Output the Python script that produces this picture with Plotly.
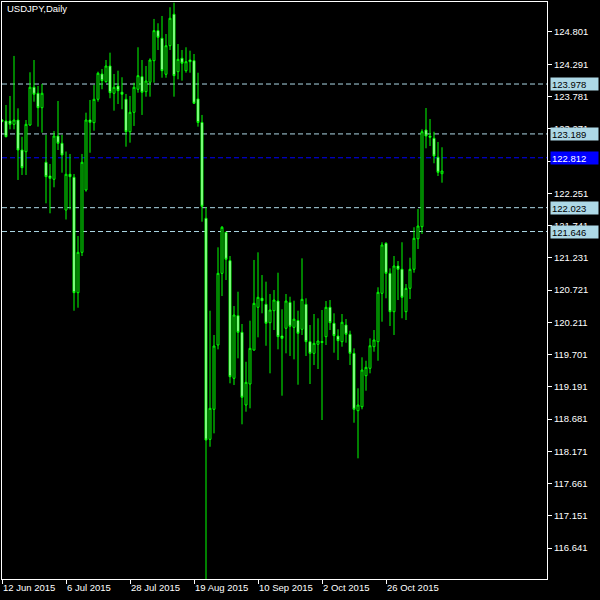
import pandas as pd
import plotly.graph_objects as go

# Trading days shown (categories)
dates = pd.bdate_range("2015-06-12", "2015-11-13").strftime("%Y-%m-%d").tolist()

opens = [123.409, 123.394, 123.394, 123.341, 123.409, 122.935, 122.908, 123.330, 123.927, 123.832,
         123.604, 122.741, 122.524, 122.472, 123.156, 123.041, 121.986, 122.551, 122.503, 120.679,
         121.317, 122.303, 123.409, 123.367, 123.737, 124.137, 124.015, 124.263, 123.832, 123.947,
         123.848, 123.737, 123.224, 123.531, 123.895, 124.094, 123.857, 124.006, 124.347, 124.822,
         124.701, 124.132, 124.584, 125.081, 124.173, 124.385, 124.189, 124.358, 124.347, 123.742,
         123.370, 121.855, 118.360, 118.835, 119.852, 120.985, 121.634, 121.185, 119.325, 120.315,
         120.052, 118.903, 119.235, 119.772, 120.448, 120.590, 120.495, 120.204, 120.394, 120.547,
         119.994, 120.116, 120.524, 120.131, 120.239, 120.100, 120.495, 119.904, 119.720, 119.863,
         119.907, 119.983, 120.448, 120.195, 119.994, 119.904, 120.168, 120.021, 119.720, 118.813,
         118.876, 119.366, 119.483, 119.825, 119.904, 120.669, 121.460, 120.985, 120.378, 121.101,
         121.049, 120.378, 120.748, 121.049, 121.532, 121.722, 123.251, 123.156, 123.120, 122.820,
         122.560]
highs = [123.425, 123.647, 123.789, 124.422, 123.594, 123.145, 123.409, 124.164, 124.358, 123.947,
         123.979, 123.172, 122.714, 123.236, 123.710, 123.172, 122.911, 122.872, 122.556, 121.575,
         122.872, 123.525, 123.726, 123.963, 124.173, 124.216, 124.358, 124.474, 124.137, 124.189,
         124.085, 123.821, 123.789, 123.999, 124.559, 124.358, 124.263, 124.385, 125.007, 124.939,
         125.054, 124.769, 125.192, 125.264, 124.611, 124.516, 124.559, 124.505, 124.453, 124.157,
         123.489, 122.029, 120.394, 120.010, 121.396, 121.733, 121.638, 121.259, 120.468, 120.694,
         120.184, 119.587, 120.236, 121.196, 121.317, 120.958, 120.853, 120.658, 120.721, 120.995,
         120.416, 120.658, 120.615, 120.552, 120.394, 121.222, 120.590, 120.168, 120.342, 120.274,
         120.405, 120.547, 120.563, 120.353, 120.100, 120.342, 120.263, 120.078, 119.799, 119.167,
         119.657, 119.603, 119.957, 120.089, 120.764, 121.476, 121.476, 121.064, 121.259, 121.180,
         121.476, 120.816, 121.232, 121.713, 122.002, 123.262, 123.599, 123.425, 123.224, 123.062,
         122.978]
lows = [123.373, 123.136, 123.262, 123.262, 122.461, 122.540, 122.540, 123.315, 123.699, 123.304,
        123.209, 122.092, 121.934, 122.345, 122.935, 122.576, 121.836, 121.994, 120.394, 120.441,
        121.259, 122.276, 122.892, 123.240, 123.699, 123.895, 123.999, 123.753, 123.557, 123.662,
        123.579, 122.987, 123.051, 123.315, 123.841, 123.489, 123.778, 123.778, 123.999, 124.516,
        124.078, 124.078, 124.516, 123.778, 124.053, 124.031, 124.157, 124.157, 123.662, 123.304,
        121.801, 116.150, 118.243, 118.455, 119.783, 120.626, 120.879, 119.246, 119.219, 119.641,
        118.598, 118.797, 118.851, 119.761, 119.973, 120.353, 119.840, 119.404, 120.089, 119.783,
        119.050, 119.720, 119.678, 119.625, 119.224, 120.010, 119.678, 119.235, 119.535, 119.472,
        118.666, 119.852, 120.089, 119.730, 119.614, 119.825, 119.888, 119.535, 118.623, 118.060,
        118.835, 119.129, 119.404, 119.746, 119.603, 120.220, 120.590, 120.152, 120.010, 120.563,
        120.274, 120.247, 120.579, 120.995, 121.370, 121.607, 122.962, 122.998, 122.725, 122.524,
        122.418]
closes = [123.389, 123.145, 123.341, 123.409, 122.935, 122.655, 123.341, 123.927, 123.816, 123.604,
          123.832, 122.513, 122.487, 123.156, 123.041, 122.856, 122.551, 122.513, 120.679, 121.317,
          122.741, 123.409, 123.373, 123.737, 124.148, 124.031, 124.263, 123.841, 123.927, 123.873,
          123.816, 123.224, 123.531, 123.927, 124.110, 123.848, 124.026, 124.358, 124.822, 124.717,
          124.189, 124.584, 125.018, 124.110, 124.369, 124.306, 124.331, 124.331, 123.674, 123.370,
          122.045, 118.349, 118.851, 119.836, 120.985, 121.713, 121.207, 119.350, 120.326, 120.052,
          119.025, 119.262, 119.799, 120.511, 120.606, 120.552, 120.195, 120.405, 120.563, 119.983,
          119.957, 120.547, 120.147, 120.260, 120.037, 120.574, 119.904, 119.720, 119.878, 119.915,
          119.891, 120.448, 120.204, 119.999, 119.920, 120.211, 120.021, 119.720, 118.835, 118.903,
          119.456, 119.499, 119.840, 119.931, 120.685, 121.433, 120.985, 120.378, 121.101, 121.049,
          120.606, 120.748, 121.049, 121.539, 121.733, 123.224, 123.156, 123.136, 122.840, 122.582,
          122.603]

# Axis ticks
price_ticks = [124.801, 124.291, 123.781, 123.271, 122.761, 122.251, 121.741, 121.231, 120.721,
               120.211, 119.701, 119.191, 118.681, 118.171, 117.661, 117.151, 116.641]
date_ticks = ["2015-06-12", "2015-07-06", "2015-07-28", "2015-08-19", "2015-09-10", "2015-10-02", "2015-10-26"]
date_tick_labels = ["12 Jun 2015", "6 Jul 2015", "28 Jul 2015", "19 Aug 2015", "10 Sep 2015", "2 Oct 2015", "26 Oct 2015"]

# Horizontal levels
levels = [123.978, 123.189, 122.023, 121.646]
bid_level = 122.812

GREEN = "#00FF00"
LIGHTBLUE = "#ADD8E6"
FONT = "Liberation Sans, Arial, sans-serif"

fig = go.Figure()
fig.add_trace(go.Candlestick(
    x=dates, open=opens, high=highs, low=lows, close=closes,
    increasing=dict(line=dict(color=GREEN, width=1), fillcolor="black"),
    decreasing=dict(line=dict(color=GREEN, width=1), fillcolor="white"),
    whiskerwidth=0, hoverinfo="skip", showlegend=False,
))

shapes = []
for lv in levels:
    shapes.append(dict(type="line", xref="paper", x0=0, x1=1, yref="y", y0=lv, y1=lv,
                       line=dict(color=LIGHTBLUE, width=1, dash="5px,3px"), layer="below"))
shapes.append(dict(type="line", xref="paper", x0=0, x1=1, yref="y", y0=bid_level, y1=bid_level,
                   line=dict(color="#0000FF", width=1, dash="5px,3px"), layer="below"))

annotations = [dict(text="USDJPY,Daily", xref="paper", yref="paper", x=0.0055, y=0.988,
                    xanchor="left", yanchor="middle", showarrow=False,
                    font=dict(color="white", size=9.5, family=FONT))]
for lv in levels:
    annotations.append(dict(text=f"{lv:.3f}", xref="paper", x=1, xshift=3, xanchor="left",
                            yref="y", y=lv, yanchor="middle", showarrow=False,
                            bgcolor=LIGHTBLUE, width=45, height=10, borderpad=1, align="left",
                            font=dict(color="black", size=9.5, family=FONT)))
annotations.append(dict(text=f"{bid_level:.3f}", xref="paper", x=1, xshift=3, xanchor="left",
                        yref="y", y=bid_level, yanchor="middle", showarrow=False,
                        bgcolor="#0000FF", width=45, height=10, borderpad=1, align="left",
                        font=dict(color="white", size=9.5, family=FONT)))

fig.update_layout(
    width=600, height=600,
    margin=dict(l=2, r=53, t=2, b=21),
    paper_bgcolor="black", plot_bgcolor="black",
    shapes=shapes, annotations=annotations,
    showlegend=False,
    xaxis=dict(type="category", range=[0, 136.25], rangeslider=dict(visible=False),
               tickmode="array", tickvals=date_ticks, ticktext=date_tick_labels,
               ticks="outside", ticklen=4, tickcolor="white", tickwidth=1,
               ticklabelposition="outside right",
               tickfont=dict(color="white", size=9.5, family=FONT),
               showgrid=False, zeroline=False, showline=True, linecolor="white",
               linewidth=1, mirror=True),
    yaxis=dict(side="right", range=[116.152, 125.275], tickmode="array",
               tickvals=price_ticks, ticktext=[f"{v:.3f}" for v in price_ticks],
               ticks="outside", ticklen=4, tickcolor="white", tickwidth=1,
               tickfont=dict(color="white", size=9.5, family=FONT),
               showgrid=False, zeroline=False, showline=True, linecolor="white",
               linewidth=1, mirror=True),
)

fig.write_html("out.html", config={"displayModeBar": False},
               post_script="document.body.style.margin='0';document.body.style.background='black';")
